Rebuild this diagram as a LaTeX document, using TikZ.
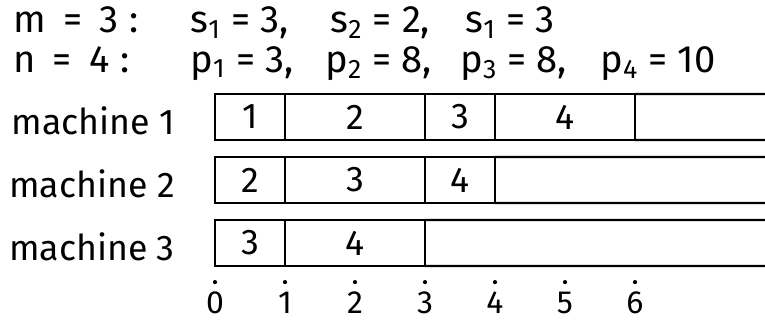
\documentclass[tikz,border=0pt]{standalone}
\usepackage{fontspec}
\setmainfont{Fira Sans}
\usepackage{tikz}

\begin{document}
\begin{tikzpicture}[font=\fontsize{14.5}{17}\selectfont,line cap=round,
  cell/.style={draw,line width=0.9pt,inner sep=0pt,outer sep=0pt,minimum height=0.657cm},
  bar/.style={line width=0.9pt},
  tick/.style={inner sep=0pt,font=\fontsize{13}{15}\selectfont},
  lbl/.style={anchor=base west,inner sep=0pt,font=\fontsize{15.5}{18}\selectfont}]
\useasboundingbox (-3.071,0) rectangle (7.857,-4.6);
% given data
\node[lbl] (mval) at (-2.886,-0.471) {m\hspace{0.45em}=\hspace{0.45em}3\hspace{0.3em}:};
\node[lbl] (s1) at (-0.357,-0.471) {s\textsubscript{1} = 3,};
\node[lbl] (s2) at (1.643,-0.471) {s\textsubscript{2} = 2,};
\node[lbl] (s3) at (3.571,-0.471) {s\textsubscript{1} = 3};
\node[lbl] (nval) at (-2.886,-1.03) {n\hspace{0.45em}=\hspace{0.45em}4\hspace{0.3em}:};
\node[lbl] (p1) at (-0.357,-1.03) {p\textsubscript{1} = 3,};
\node[lbl] (p2) at (1.571,-1.03) {p\textsubscript{2} = 8,};
\node[lbl] (p3) at (3.5,-1.03) {p\textsubscript{3} = 8,};
\node[lbl] (p4) at (5.5,-1.03) {p\textsubscript{4} = 10};
% machine 1
\node[anchor=east] (mach1) at (-0.45,-1.72) {machine 1};
\node[cell,minimum width=1cm] (a1) at (0.5,-1.671) {1};
\node[cell,minimum width=2cm] (a2) at (2,-1.671) {2};
\node[cell,minimum width=1cm] (a3) at (3.5,-1.671) {3};
\node[cell,minimum width=2cm] (a4) at (5,-1.671) {4};
\coordinate (a5t) at (7.9,-1.343);
\coordinate (a5b) at (7.9,-2);
\draw[bar] (a4.north east) -- (a5t);
\draw[bar] (a4.south east) -- (a5b);
% machine 2
\node[anchor=east] (mach2) at (-0.45,-2.62) {machine 2};
\node[cell,minimum width=1cm] (b1) at (0.5,-2.571) {2};
\node[cell,minimum width=2cm] (b2) at (2,-2.571) {3};
\node[cell,minimum width=1cm] (b3) at (3.5,-2.571) {4};
\coordinate (b4t) at (7.9,-2.243);
\coordinate (b4b) at (7.9,-2.9);
\draw[bar] (b3.north east) -- (b4t);
\draw[bar] (b3.south east) -- (b4b);
% machine 3
\node[anchor=east] (mach3) at (-0.45,-3.52) {machine 3};
\node[cell,minimum width=1cm] (c1) at (0.5,-3.471) {3};
\node[cell,minimum width=2cm] (c2) at (2,-3.471) {4};
\coordinate (c3t) at (7.9,-3.143);
\coordinate (c3b) at (7.9,-3.8);
\draw[bar] (c2.north east) -- (c3t);
\draw[bar] (c2.south east) -- (c3b);
% time axis
\fill (0,-4.03) circle (0.03);
\node[tick] (t0) at (0,-4.33) {0};
\fill (1,-4.03) circle (0.03);
\node[tick] (t1) at (1,-4.33) {1};
\fill (2,-4.03) circle (0.03);
\node[tick] (t2) at (2,-4.33) {2};
\fill (3,-4.03) circle (0.03);
\node[tick] (t3) at (3,-4.33) {3};
\fill (4,-4.03) circle (0.03);
\node[tick] (t4) at (4,-4.33) {4};
\fill (5,-4.03) circle (0.03);
\node[tick] (t5) at (5,-4.33) {5};
\fill (6,-4.03) circle (0.03);
\node[tick] (t6) at (6,-4.33) {6};
\end{tikzpicture}
\end{document}
